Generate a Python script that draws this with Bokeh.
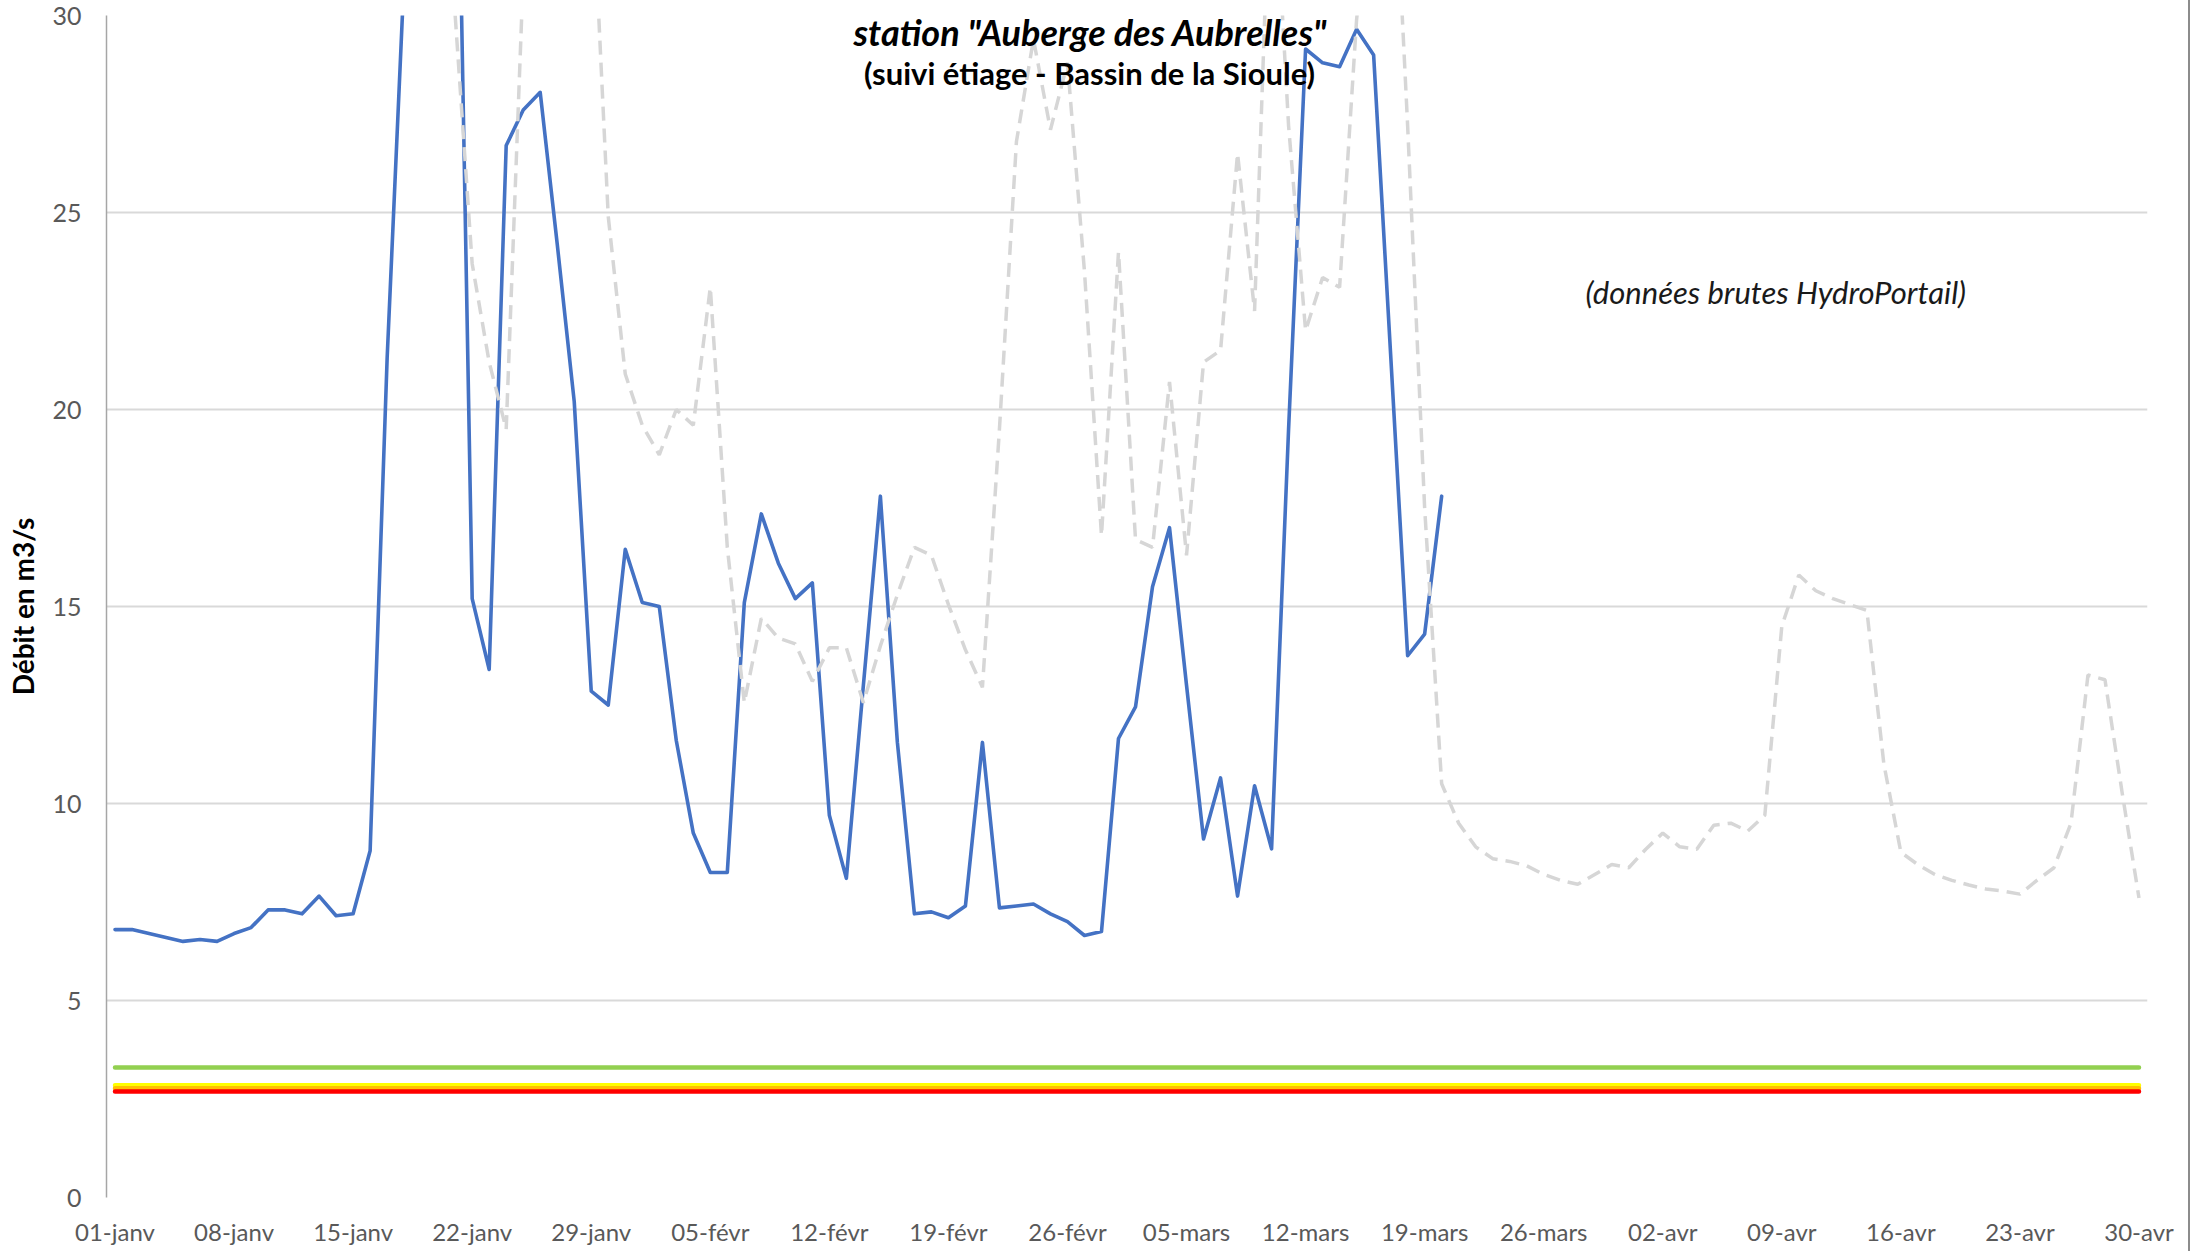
import datetime
from bokeh.plotting import figure
from bokeh.models import Range1d, FixedTicker, Label, Div
from bokeh.layouts import row
from bokeh.embed import file_html
from bokeh.resources import INLINE

nan = float("nan")

# ---- categories: one point per day, 01-janv .. 30-avr
mois = ["janv", "févr", "mars", "avr"]
debut = datetime.date(2023, 1, 1)
jours = list(range(120))
etiquettes_jours = [
    "%02d-%s" % ((debut + datetime.timedelta(days=i)).day,
                 mois[(debut + datetime.timedelta(days=i)).month - 1])
    for i in jours
]
tick_labels = ["01-janv", "08-janv", "15-janv", "22-janv", "29-janv", "05-févr",
               "12-févr", "19-févr", "26-févr", "05-mars", "12-mars", "19-mars",
               "26-mars", "02-avr", "09-avr", "16-avr", "23-avr", "30-avr"]
y_ticks = [0, 5, 10, 15, 20, 25, 30]

# ---- current year (blue, 01-janv .. 20-mars)
debit_annee = [
    6.8, 6.8, 6.7, 6.6, 6.5, 6.55, 6.5, 6.7, 6.85, 7.3,
    7.3, 7.2, 7.65, 7.15, 7.2, 8.8, 21.3, 31.0, 45.0, 43.0,
    39.0, 15.2, 13.4, 26.7, 27.6, 28.05, 24.2, 20.2, 12.85, 12.5,
    16.45, 15.1, 15.0, 11.6, 9.25, 8.25, 8.25, 15.1, 17.35, 16.1,
    15.2, 15.6, 9.7, 8.1, 13.0, 17.8, 11.55, 7.2, 7.25, 7.1,
    7.4, 11.55, 7.35, 7.4, 7.45, 7.2, 7.0, 6.65, 6.75, 11.65,
    12.45, 15.5, 17.0, 13.0, 9.1, 10.65, 7.65, 10.45, 8.85, 19.5,
    29.15, 28.8, 28.7, 29.65, 29.0, 21.4, 13.75, 14.3, 17.8,
]

# ---- previous year (grey dashed, 01-janv .. 30-avr); first days off chart
debit_annee_prec = [
    nan, nan, nan, nan, nan, nan, nan, nan, nan, nan,
    nan, nan, nan, nan, nan, nan, nan, nan, nan, nan,
    30.0, 23.7, 21.2, 19.5, 31.0, 38.0, 40.0, 37.0, 34.0, 24.9,
    20.9, 19.6, 18.85, 20.0, 19.6, 23.1, 16.5, 12.56, 14.7, 14.2,
    14.05, 13.1, 13.95, 13.95, 12.56, 14.0, 15.3, 16.5, 16.3, 15.05,
    13.9, 12.95, 19.5, 26.8, 29.4, 27.1, 28.8, 23.5, 16.8, 24.0,
    16.7, 16.5, 20.7, 16.3, 21.2, 21.5, 26.5, 22.5, 35.0, 27.2,
    22.0, 23.35, 23.1, 29.9, 34.0, 36.0, 27.2, 17.5, 10.5, 9.5,
    8.9, 8.6, 8.53, 8.42, 8.2, 8.05, 7.95, 8.2, 8.45, 8.37,
    8.84, 9.25, 8.9, 8.84, 9.45, 9.5, 9.3, 9.7, 14.5, 15.8,
    15.4, 15.2, 15.05, 14.9, 11.0, 8.76, 8.45, 8.2, 8.05, 7.93,
    7.83, 7.78, 7.7, 8.05, 8.37, 9.5, 13.26, 13.14, 10.3, 7.6,
]

# ---- drought thresholds (m3/s)
seuil_vigilance = 3.3
seuil_alerte = 2.85
seuil_alerte_renforcee = 2.77
seuil_crise = 2.69

FONT = "Lato"
W, H = 2188, 1251

p = figure(width=W, height=H, x_range=Range1d(-0.5, 119.5), y_range=Range1d(0, 30),
           output_backend="svg", toolbar_location=None, tools="")
p.min_border_left = 106
p.min_border_right = 41
p.min_border_top = 15
p.min_border_bottom = 54
p.outline_line_color = None
p.background_fill_color = "white"
p.border_fill_color = "white"

tick_pos = [etiquettes_jours.index(t) for t in tick_labels]
p.xaxis.ticker = FixedTicker(ticks=tick_pos)
p.xaxis.major_label_overrides = {pos: lab for pos, lab in zip(tick_pos, tick_labels)}
p.xaxis.axis_line_color = None
p.xaxis.major_tick_line_color = None
p.xaxis.major_tick_out = 0
p.xaxis.minor_tick_line_color = None
p.xaxis.major_label_standoff = 19
p.xaxis.major_label_text_font = FONT
p.xaxis.major_label_text_font_size = "24px"
p.xaxis.major_label_text_color = "#595959"

p.yaxis.ticker = FixedTicker(ticks=y_ticks)
p.yaxis.axis_line_color = "#A6A6A6"
p.yaxis.axis_line_width = 1.5
p.yaxis.major_tick_line_color = None
p.yaxis.major_tick_out = 0
p.yaxis.minor_tick_line_color = None
p.yaxis.major_label_standoff = 25
p.yaxis.major_label_text_font = FONT
p.yaxis.major_label_text_font_size = "25px"
p.yaxis.major_label_text_color = "#595959"
p.yaxis.axis_label = "Débit en m3/s"
p.yaxis.axis_label_text_font = FONT
p.yaxis.axis_label_text_font_style = "bold"
p.yaxis.axis_label_text_font_size = "28px"
p.yaxis.axis_label_text_color = "#000000"
p.yaxis.axis_label_standoff = 9

p.xgrid.visible = False
p.ygrid.ticker = FixedTicker(ticks=y_ticks)
p.ygrid.grid_line_color = "#D9D9D9"
p.ygrid.grid_line_width = 2

for val, col in [(seuil_vigilance, "#92D050"), (seuil_alerte, "#FFFF00"),
                 (seuil_alerte_renforcee, "#FFC000"), (seuil_crise, "#FF0000")]:
    p.line(jours, [val] * len(jours), line_color=col, line_width=4.5, line_cap="round")

p.line(jours[:len(debit_annee)], debit_annee, line_color="#4472C4", line_width=3.6,
       line_join="round", line_cap="round")
p.line(jours, debit_annee_prec, line_color="#D6D6D6", line_width=3.5, line_dash="14 8")

p.add_layout(Label(x=57.35, y=29.59, text='station "Auberge des Aubrelles"',
                   text_font=FONT, text_font_style="bold italic", text_font_size="36px",
                   text_align="center", text_baseline="middle", text_color="#000000"))
p.add_layout(Label(x=57.3, y=28.53, text="(suivi étiage - Bassin de la Sioule)",
                   text_font=FONT, text_font_style="bold", text_font_size="31px",
                   text_align="center", text_baseline="middle", text_color="#000000"))
p.add_layout(Label(x=97.65, y=22.98, text="(données brutes HydroPortail)",
                   text_font=FONT, text_font_style="italic", text_font_size="31px",
                   text_align="center", text_baseline="middle", text_color="#1a1a1a"))

bord = Div(text="", width=2, height=H, margin=0,
           styles={"background-color": "#8C8C8C"})
layout = row(p, bord, spacing=0)

open("out.html", "w").write(file_html(layout, INLINE))
